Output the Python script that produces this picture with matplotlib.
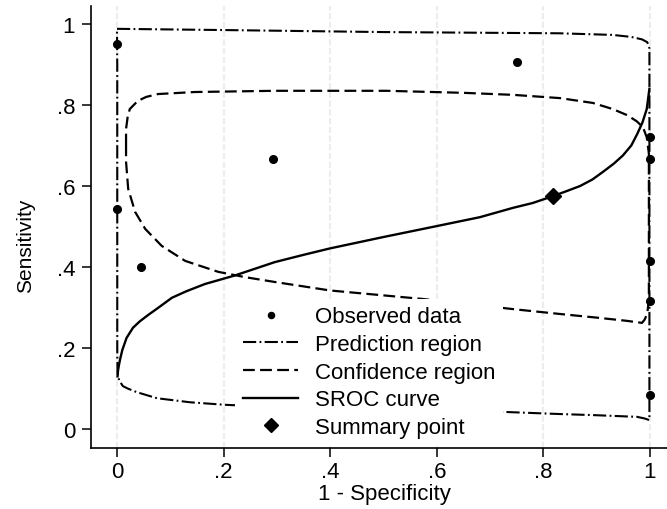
import numpy as np
import matplotlib
matplotlib.use("Agg")
import matplotlib.pyplot as plt

plt.rcParams['font.family'] = ['Liberation Sans', 'DejaVu Sans']
plt.rcParams['lines.scale_dashes'] = False

# observed studies (1 - specificity, sensitivity)
obs_fpr = [0.0, 0.0, 0.045, 0.293, 0.75, 1.0, 1.0, 1.0, 1.0, 1.0]
obs_sens = [0.951, 0.542, 0.40, 0.667, 0.907, 0.721, 0.667, 0.416, 0.316, 0.084]

# summary operating point
summ_fpr = [0.818]
summ_sens = [0.575]

# SROC curve
sroc_fpr = [0.001, 0.002, 0.004, 0.006, 0.01, 0.018, 0.03, 0.043, 0.06, 0.075,
            0.103, 0.13, 0.165, 0.221, 0.296, 0.35, 0.40, 0.50, 0.60, 0.681,
            0.743, 0.78, 0.816, 0.845, 0.869, 0.892, 0.912, 0.932, 0.949, 0.965,
            0.976, 0.986, 0.994, 0.999]
sroc_sens = [0.13, 0.145, 0.16, 0.173, 0.195, 0.225, 0.25, 0.266, 0.283, 0.297,
             0.324, 0.34, 0.358, 0.379, 0.412, 0.43, 0.446, 0.474, 0.501, 0.523,
             0.546, 0.558, 0.574, 0.588, 0.600, 0.616, 0.635, 0.655, 0.675, 0.70,
             0.728, 0.757, 0.790, 0.840]

# 95% prediction region (closed loop)
pred_fpr = [0.0, 0.2, 0.5, 0.83, 0.93, 0.965, 0.985, 0.995, 0.999,
            0.999, 0.999, 0.999,
            0.99, 0.976, 0.9, 0.83, 0.73, 0.6, 0.4, 0.215, 0.2, 0.137, 0.075,
            0.037, 0.02, 0.011, 0.004, 0.001,
            0.0005, 0.0005, 0.0]
pred_sens = [0.988, 0.985, 0.98, 0.977, 0.973, 0.968, 0.962, 0.955, 0.94,
             0.5, 0.1, 0.022,
             0.026, 0.03, 0.034, 0.037, 0.042, 0.045, 0.051, 0.059, 0.06, 0.066, 0.076,
             0.091, 0.10, 0.106, 0.12, 0.14,
             0.2, 0.9, 0.988]

# 95% confidence region (closed loop)
conf_fpr = [0.017, 0.017, 0.02, 0.024, 0.039, 0.055, 0.077, 0.146, 0.296, 0.506,
            0.65, 0.743, 0.831, 0.893, 0.93, 0.957, 0.975, 0.987, 0.994, 0.998,
            0.998, 0.995, 0.99, 0.985, 0.957, 0.9, 0.831, 0.75, 0.574, 0.4,
            0.296, 0.24, 0.19, 0.128, 0.084, 0.053, 0.034, 0.021, 0.017, 0.017]
conf_sens = [0.70, 0.741, 0.77, 0.79, 0.81, 0.82, 0.827, 0.832, 0.835, 0.835,
             0.83, 0.825, 0.817, 0.805, 0.79, 0.775, 0.76, 0.745, 0.72, 0.68,
             0.32, 0.285, 0.27, 0.262, 0.267, 0.275, 0.284, 0.295, 0.321, 0.342,
             0.363, 0.375, 0.388, 0.415, 0.452, 0.494, 0.536, 0.593, 0.66, 0.70]

xticks = [0, 0.2, 0.4, 0.6, 0.8, 1.0]
xtick_labels = ['0', '.2', '.4', '.6', '.8', '1']
yticks = [0, 0.2, 0.4, 0.6, 0.8, 1.0]
ytick_labels = ['0', '.2', '.4', '.6', '.8', '1']

fig = plt.figure(figsize=(6.67, 5.10), dpi=100)
ax = fig.add_axes([0.1364, 0.1196, 0.8636, 0.8667])

dashdot = (0, (9.5, 2.4, 1.3, 2.4))
dashed = (0, (8.5, 3.8))

for xt in xticks:
    ax.axvline(xt, color='#ededed', lw=1.6, ls=(0, (4.5, 1.8)), zorder=1)

ax.plot(obs_fpr, obs_sens, 'o', color='black', ms=5.5, zorder=4, label='Observed data')
ax.plot(pred_fpr, pred_sens, color='black', lw=1.5, ls=dashdot, zorder=2,
        label='Prediction region')
ax.plot(conf_fpr, conf_sens, color='black', lw=1.6, ls=dashed, zorder=2,
        label='Confidence region')
ax.plot(sroc_fpr, sroc_sens, color='black', lw=1.7, zorder=3, label='SROC curve')
ax.plot(summ_fpr, summ_sens, 'D', color='black', ms=8.5, zorder=5, label='Summary point')

ax.set_xlim(-0.0488, 1.032)
ax.set_ylim(-0.0469, 1.0444)
ax.set_xticks(xticks)
ax.set_xticklabels(xtick_labels)
ax.set_yticks(yticks)
ax.set_yticklabels(ytick_labels)
ax.tick_params(axis='both', labelsize=16, length=6.5, width=1.1, color='black')
ax.tick_params(axis='x', pad=3)
ax.tick_params(axis='y', pad=5)

for side in ['top', 'right']:
    ax.spines[side].set_visible(False)
for side in ['left', 'bottom']:
    ax.spines[side].set_linewidth(1.2)

ax.set_xlabel('1 - Specificity', fontsize=16)
ax.set_ylabel('Sensitivity', fontsize=15)
ax.xaxis.set_label_coords(0.51, -0.08)
ax.yaxis.set_label_coords(-0.097, 0.46)

leg = ax.legend(loc='lower left', bbox_to_anchor=(0.25, 0.005), fontsize=16,
                frameon=True, fancybox=False, facecolor='white', edgecolor='white',
                framealpha=1, borderpad=0.35, borderaxespad=0, handlelength=2.5,
                handletextpad=0.75, labelspacing=0.3, markerscale=0.8)
leg.set_zorder(6)
leg.get_frame().set_linewidth(0)

fig.savefig('out.png', dpi=100, facecolor='white')
